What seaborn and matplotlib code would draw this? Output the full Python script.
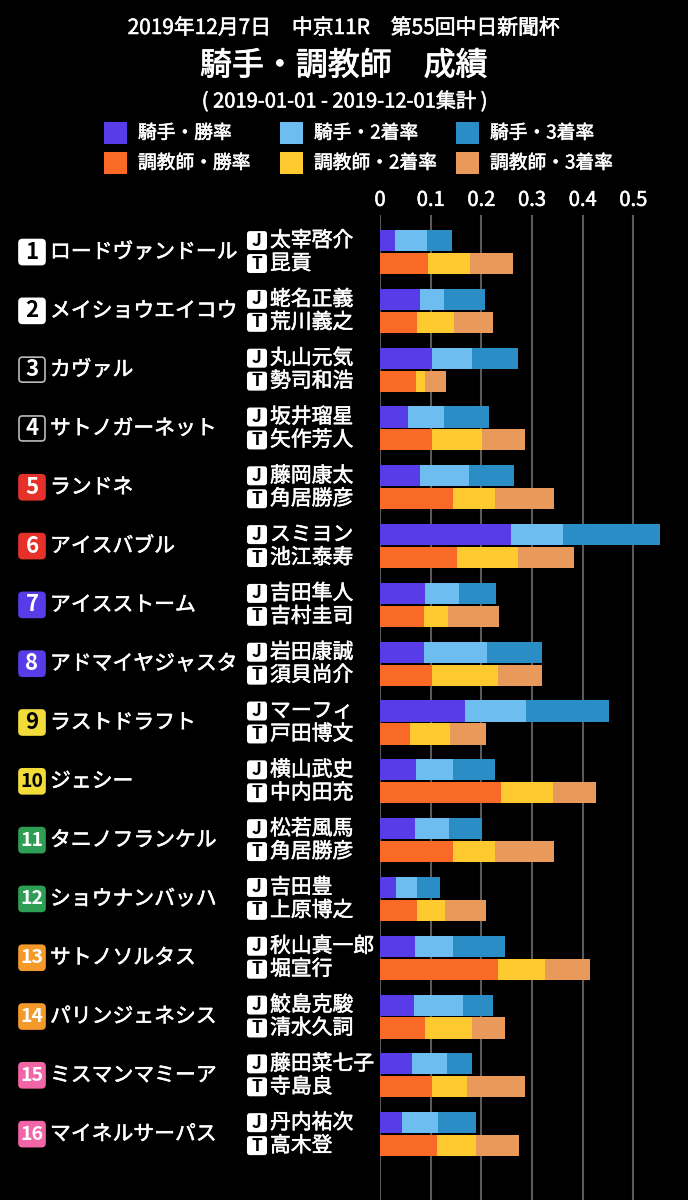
import numpy as np
import pandas as pd
import seaborn as sns
import matplotlib.pyplot as plt
import matplotlib.patheffects as pe
from matplotlib.patches import Rectangle, FancyBboxPatch
from matplotlib.transforms import blended_transform_factory

#%% データ

uma_ban = [str(i) for i in range(1, 17)]
bamei = ['ロードヴァンドール', 'メイショウエイコウ', 'カヴァル', 'サトノガーネット',
         'ランドネ', 'アイスバブル', 'アイスストーム', 'アドマイヤジャスタ',
         'ラストドラフト', 'ジェシー', 'タニノフランケル', 'ショウナンバッハ',
         'サトノソルタス', 'パリンジェネシス', 'ミスマンマミーア', 'マイネルサーパス']
kishu = ['太宰啓介', '蛯名正義', '丸山元気', '坂井瑠星', '藤岡康太', 'スミヨン',
         '吉田隼人', '岩田康誠', 'マーフィ', '横山武史', '松若風馬', '吉田豊',
         '秋山真一郎', '鮫島克駿', '藤田菜七子', '丹内祐次']
chokyoshi = ['昆貢', '荒川義之', '勢司和浩', '矢作芳人', '角居勝彦', '池江泰寿',
             '吉村圭司', '須貝尚介', '戸田博文', '中内田充', '角居勝彦', '上原博之',
             '堀宣行', '清水久詞', '寺島良', '高木登']

kishu_1 = [0.030, 0.079, 0.102, 0.055, 0.079, 0.258, 0.089, 0.086,
           0.168, 0.072, 0.069, 0.032, 0.069, 0.067, 0.064, 0.043]
kishu_2 = [0.063, 0.048, 0.080, 0.072, 0.096, 0.103, 0.067, 0.125,
           0.121, 0.072, 0.068, 0.041, 0.075, 0.096, 0.069, 0.072]
kishu_3 = [0.049, 0.080, 0.090, 0.089, 0.090, 0.191, 0.073, 0.109,
           0.163, 0.082, 0.065, 0.045, 0.103, 0.061, 0.048, 0.075]
chokyo_1 = [0.094, 0.074, 0.071, 0.102, 0.144, 0.151, 0.087, 0.103,
            0.060, 0.238, 0.144, 0.073, 0.233, 0.088, 0.102, 0.113]
chokyo_2 = [0.084, 0.072, 0.018, 0.099, 0.083, 0.121, 0.047, 0.130,
            0.078, 0.104, 0.083, 0.056, 0.093, 0.094, 0.069, 0.077]
chokyo_3 = [0.084, 0.077, 0.042, 0.086, 0.117, 0.111, 0.100, 0.087,
            0.072, 0.084, 0.117, 0.080, 0.088, 0.065, 0.116, 0.084]

ticks = [0, 0.1, 0.2, 0.3, 0.4, 0.5]
tick_labels = ['0', '0.1', '0.2', '0.3', '0.4', '0.5']

kishu_colors = ['#573CE8', '#6DBDF0', '#2A8DC5']
chokyo_colors = ['#F96A27', '#FFCA30', '#E99A5B']
legend_labels = [['騎手・勝率', '騎手・2着率', '騎手・3着率'],
                 ['調教師・勝率', '調教師・2着率', '調教師・3着率']]

# 枠色 (背景, 文字, 枠線)
waku = {1: ('white', 'black', 'white'), 2: ('black', 'white', '#bbbbbb'),
        3: ('#E5312A', 'white', '#E5312A'), 4: ('#573CE8', 'white', '#573CE8'),
        5: ('#F2DC3A', 'black', '#F2DC3A'), 6: ('#2E9E55', 'white', '#2E9E55'),
        7: ('#F39A2B', 'white', '#F39A2B'), 8: ('#F266A8', 'white', '#F266A8')}
waku_ban = [1, 1, 2, 2, 3, 3, 4, 4, 5, 5, 6, 6, 7, 7, 8, 8]

#%% DataFrame (積み上げ用の累積値)

df = pd.concat([
    pd.DataFrame({'uma': uma_ban, 'role': 'J', 'r1': kishu_1, 'r2': kishu_2, 'r3': kishu_3}),
    pd.DataFrame({'uma': uma_ban, 'role': 'T', 'r1': chokyo_1, 'r2': chokyo_2, 'r3': chokyo_3}),
], ignore_index=True)
df['c1'] = df['r1']
df['c2'] = df['r1'] + df['r2']
df['c3'] = df['c2'] + df['r3']

#%% グラフ

sns.set_style('dark', {'axes.facecolor': 'black', 'figure.facecolor': 'black',
                       'text.color': 'white', 'xtick.color': 'white'})
plt.rcParams['font.family'] = ['Noto Sans CJK JP', 'DejaVu Sans']

# 文字を少し太く見せる
futoku = [pe.withStroke(linewidth=0.4, foreground='white')]

W, H = 688, 1200
fig = plt.figure(figsize=(W / 100, H / 100), dpi=100)
ax = fig.add_axes([380 / W, 0, 304 / W, 1 - 215 / H])

for k in [3, 2, 1]:
    sns.barplot(data=df, x=f'c{k}', y='uma', hue='role', order=uma_ban,
                hue_order=['J', 'T'],
                palette={'J': kishu_colors[k - 1], 'T': chokyo_colors[k - 1]},
                orient='h', width=0.78, gap=0.08, errorbar=None, legend=False,
                linewidth=0, saturation=1, ax=ax)

ax.set_xlim(0, 0.6)
ax.set_ylim(16.12, -0.63)
ax.set_yticks([])
ax.set_xlabel('')
ax.set_ylabel('')
ax.set_xticks(ticks)
ax.set_xticklabels(tick_labels)
ax.xaxis.tick_top()
ax.tick_params(axis='x', length=0, pad=3, labelsize=14.5, colors='white')
for t in ax.get_xticklabels():
    t.set_path_effects(futoku)
ax.set_axisbelow(True)
ax.grid(axis='x', color='#5a5a5a', linewidth=1.5)
ax.grid(axis='y', visible=False)
for s in ax.spines.values():
    s.set_visible(False)

#%% 左側のラベル

tr = blended_transform_factory(fig.transFigure, ax.transData)
px_per_row = (H - 215) / (16.12 + 0.63)
asp = W / px_per_row
for i in range(16):
    bg, fg, ec = waku[waku_ban[i]]
    bw, bh = 26 / W, 25 / px_per_row
    ax.add_patch(FancyBboxPatch((19 / W, i - bh / 2), bw, bh, transform=tr,
                                boxstyle='round,pad=0,rounding_size=0.005',
                                mutation_aspect=asp, facecolor=bg, edgecolor=ec,
                                linewidth=1.2, clip_on=False))
    ax.text(32 / W, i, uma_ban[i], transform=tr, ha='center', va='center',
            color=fg, fontsize=16 if len(uma_ban[i]) == 1 else 14,
            fontweight='bold', clip_on=False)
    ax.text(50 / W, i, bamei[i], transform=tr, ha='left', va='center',
            color='white', fontsize=15, clip_on=False, path_effects=futoku)
    for off, letter, name in [(-0.195, 'J', kishu[i]), (0.195, 'T', chokyoshi[i])]:
        jh = 19 / px_per_row
        ax.add_patch(FancyBboxPatch((247 / W, i + off - jh / 2), 20 / W, jh,
                                    transform=tr,
                                    boxstyle='round,pad=0,rounding_size=0.004',
                                    mutation_aspect=asp, facecolor='white',
                                    edgecolor='white', linewidth=0, clip_on=False))
        ax.text(257 / W, i + off, letter, transform=tr, ha='center', va='center',
                color='black', fontsize=12.5, fontweight='bold', clip_on=False)
        ax.text(270 / W, i + off, name, transform=tr, ha='left', va='center',
                color='white', fontsize=15, clip_on=False, path_effects=futoku)

#%% タイトルと凡例

fig.text(0.5, 1 - 28 / H, '2019年12月7日　中京11R　第55回中日新聞杯',
         ha='center', va='center', color='white', fontsize=15,
         path_effects=futoku)
fig.text(0.5, 1 - 66 / H, '騎手・調教師　成績', ha='center', va='center',
         color='white', fontsize=23,
         path_effects=[pe.withStroke(linewidth=0.6, foreground='white')])
fig.text(0.5, 1 - 102 / H, '( 2019-01-01 - 2019-12-01集計 )', ha='center',
         va='center', color='white', fontsize=14.5, path_effects=futoku)

leg_x = [104, 280, 456]
leg_y = [133, 163]
for r, cols in enumerate([kishu_colors, chokyo_colors]):
    for c in range(3):
        fig.patches.append(Rectangle((leg_x[c] / W, 1 - (leg_y[r] + 11) / H),
                                     23 / W, 22 / H, transform=fig.transFigure,
                                     facecolor=cols[c], edgecolor='none'))
        fig.text((leg_x[c] + 34) / W, 1 - leg_y[r] / H, legend_labels[r][c],
                 ha='left', va='center', color='white', fontsize=13.5,
                 path_effects=futoku)

fig.savefig('out.png', dpi=100, facecolor='black')
